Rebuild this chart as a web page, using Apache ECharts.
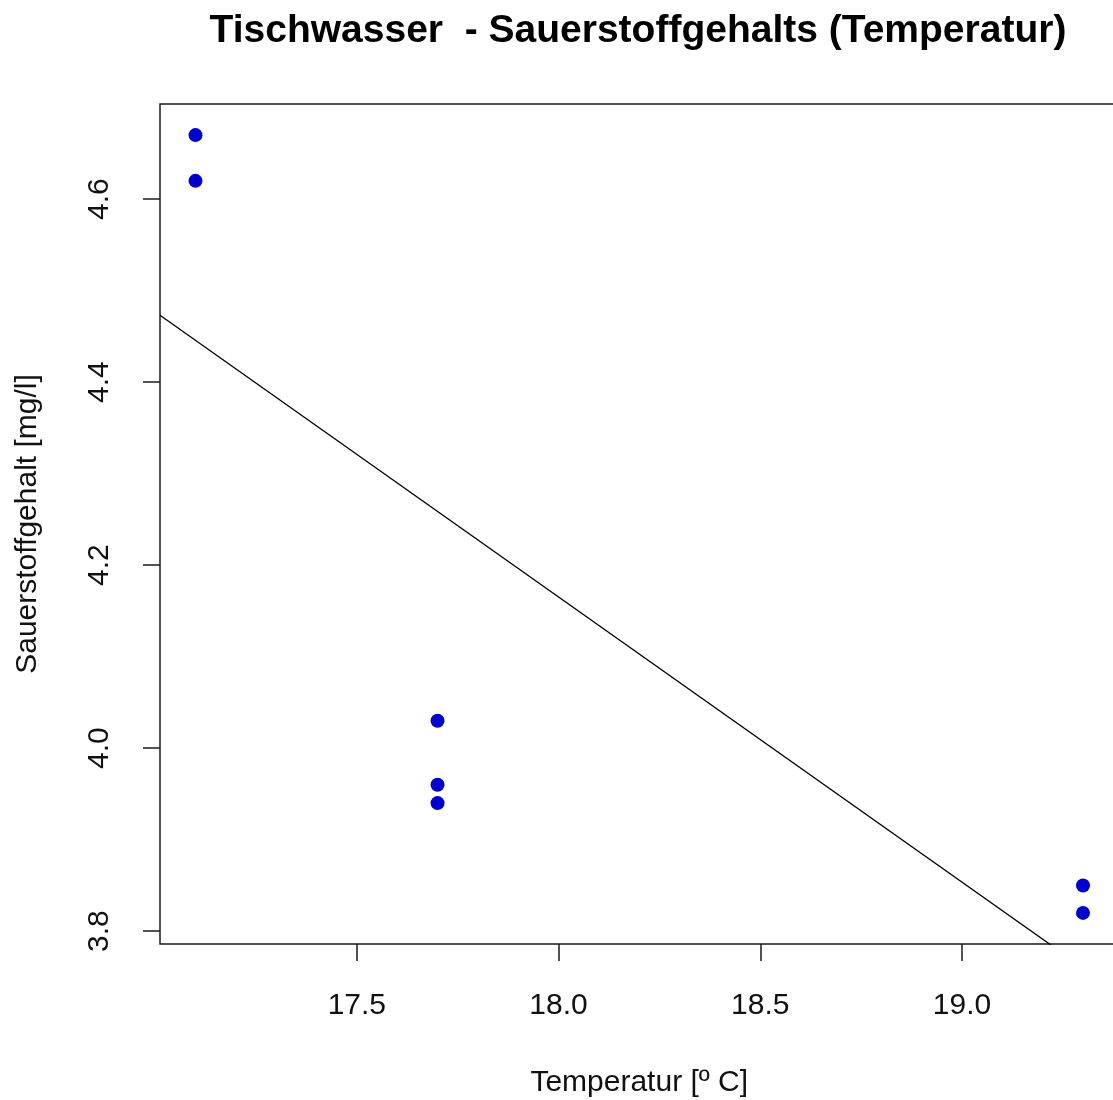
<!DOCTYPE html>
<html>
<head>
<meta charset="utf-8">
<title>Tischwasser - Sauerstoffgehalts (Temperatur)</title>
<script src="https://cdn.jsdelivr.net/npm/echarts@6/dist/echarts.min.js"></script>
<style>
  html, body { margin: 0; padding: 0; background: #fff; overflow: hidden; }
  #chart { width: 1113px; height: 1100px; }
</style>
</head>
<body>
<div id="chart"></div>
<script>
// Measurements: water temperature (°C) and dissolved oxygen (mg/l)
const temperatur = [17.1, 17.1, 17.7, 17.7, 17.7, 19.3, 19.3];
const sauerstoff = [4.67, 4.62, 4.03, 3.96, 3.94, 3.85, 3.82];

// Fitted straight line: sauerstoff = intercept + slope * temperatur
const lineIntercept = 9.774;
const lineSlope = -0.3116;

// Axis ticks
const xTicks = [17.5, 18.0, 18.5, 19.0];
const yTicks = [3.8, 4.0, 4.2, 4.4, 4.6];

// Plot ranges padded by 4% on each side of the data range
function paddedRange(values) {
  const lo = Math.min(...values), hi = Math.max(...values);
  const pad = (hi - lo) * 0.04;
  return [lo - pad, hi + pad];
}
const [xMin, xMax] = paddedRange(temperatur);
const [yMin, yMax] = paddedRange(sauerstoff);

const points = temperatur.map((t, i) => [t, sauerstoff[i]]);
const fitLine = [xMin, xMax].map(t => [t, lineIntercept + lineSlope * t]);

const FONT = '"Liberation Sans", Arial, sans-serif';
const chart = echarts.init(document.getElementById('chart'), null, { renderer: 'canvas' });

chart.setOption({
  backgroundColor: '#ffffff',
  animation: false,
  // the plot box runs a few pixels past the right edge of the canvas
  grid: {
    left: 160, top: 104, right: -5.5, bottom: 156,
    outerBoundsMode: 'none',
    containLabel: false,
    show: true,
    borderColor: '#1a1a1a',
    borderWidth: 1.5,
    backgroundColor: 'transparent'
  },
  graphic: [{
    type: 'text',
    x: 638,
    y: 31,
    style: {
      text: 'Tischwasser  - Sauerstoffgehalts (Temperatur)',
      font: 'bold 39px ' + FONT,
      fill: '#000',
      align: 'center',
      verticalAlign: 'middle'
    }
  }],
  xAxis: {
    type: 'value',
    min: xMin,
    max: xMax,
    name: 'Temperatur [º C]',
    nameLocation: 'middle',
    nameGap: 124,
    nameTextStyle: { color: '#111', fontSize: 30, fontFamily: FONT },
    axisLine: { show: false },
    axisTick: {
      show: true, inside: false, length: 17,
      customValues: xTicks,
      lineStyle: { color: '#1a1a1a', width: 1.5 }
    },
    axisLabel: {
      customValues: xTicks,
      margin: 47,
      color: '#111',
      fontSize: 30,
      fontFamily: FONT,
      formatter: v => Number(v).toFixed(1)
    },
    splitLine: { show: false }
  },
  yAxis: {
    type: 'value',
    min: yMin,
    max: yMax,
    name: 'Sauerstoffgehalt [mg/l]',
    nameLocation: 'middle',
    nameGap: 117,
    nameRotate: 90,
    nameTextStyle: { color: '#111', fontSize: 30, fontFamily: FONT },
    axisLine: { show: false },
    axisTick: {
      show: true, inside: false, length: 17,
      customValues: yTicks,
      lineStyle: { color: '#1a1a1a', width: 1.5 }
    },
    axisLabel: {
      customValues: yTicks,
      rotate: 90,
      margin: 45,
      color: '#111',
      fontSize: 30,
      fontFamily: FONT,
      formatter: v => Number(v).toFixed(1)
    },
    splitLine: { show: false }
  },
  series: [
    {
      type: 'line',
      data: fitLine,
      showSymbol: false,
      symbol: 'none',
      clip: true,
      lineStyle: { color: '#000', width: 1.3 },
      silent: true
    },
    {
      type: 'scatter',
      data: points,
      symbol: 'circle',
      symbolSize: 14,
      itemStyle: { color: '#0000CD', opacity: 1 },
      silent: true
    }
  ]
});
</script>
</body>
</html>
